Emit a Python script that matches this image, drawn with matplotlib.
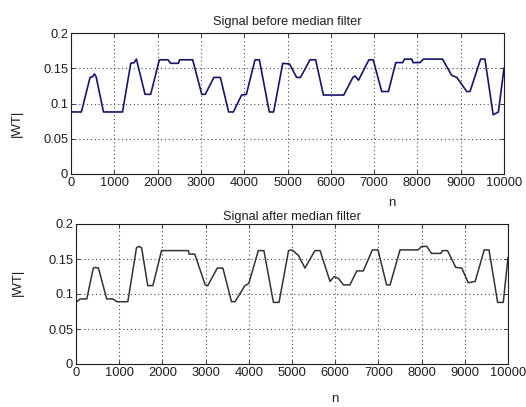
import matplotlib
matplotlib.use("Agg")
import matplotlib.pyplot as plt

plt.rcParams['font.family'] = ['Liberation Sans', 'DejaVu Sans']

# Breakpoints of the wavelet-coefficient magnitude before filtering
n_before = [0, 240, 440, 500, 540, 580, 750, 1190, 1380, 1460, 1510, 1710,
            1840, 2040, 2240, 2300, 2480, 2510, 2810, 3020, 3100, 3300, 3450,
            3640, 3750, 3940, 4050, 4250, 4350, 4580, 4680, 4890, 5050, 5210,
            5300, 5520, 5650, 5830, 6300, 6510, 6560, 6640, 6880, 6980, 7175,
            7330, 7500, 7660, 7700, 7870, 7900, 8060, 8140, 8580, 8790, 8910,
            9140, 9215, 9460, 9560, 9750, 9870, 10000]
wt_before = [0.088, 0.088, 0.137, 0.138, 0.142, 0.138, 0.088, 0.088, 0.157,
             0.158, 0.163, 0.113, 0.113, 0.162, 0.162, 0.157, 0.157, 0.162,
             0.162, 0.113, 0.113, 0.137, 0.137, 0.088, 0.088, 0.112, 0.113,
             0.162, 0.162, 0.088, 0.088, 0.157, 0.156, 0.137, 0.137, 0.162,
             0.162, 0.112, 0.112, 0.137, 0.139, 0.133, 0.162, 0.162, 0.117,
             0.117, 0.158, 0.158, 0.163, 0.163, 0.158, 0.158, 0.163, 0.163,
             0.140, 0.137, 0.117, 0.117, 0.163, 0.163, 0.084, 0.088, 0.150]

# Breakpoints of the median-filtered signal
n_after = [0, 100, 250, 400, 450, 520, 710, 850, 950, 1200, 1400, 1450, 1520,
           1660, 1780, 1980, 2600, 2620, 2750, 2990, 3050, 3270, 3400, 3600,
           3680, 3910, 4000, 4220, 4350, 4570, 4700, 4920, 5000, 5150, 5300,
           5530, 5650, 5880, 5980, 6080, 6190, 6340, 6500, 6650, 6860, 6990,
           7190, 7270, 7500, 7920, 8000, 8120, 8230, 8450, 8480, 8600, 8790,
           8930, 9080, 9240, 9450, 9560, 9760, 9890, 10000]
wt_after = [0.088, 0.093, 0.093, 0.137, 0.138, 0.137, 0.093, 0.093, 0.089,
            0.089, 0.166, 0.168, 0.166, 0.112, 0.112, 0.162, 0.162, 0.157,
            0.157, 0.113, 0.112, 0.137, 0.137, 0.089, 0.089, 0.112, 0.115,
            0.162, 0.162, 0.088, 0.088, 0.162, 0.163, 0.155, 0.137, 0.162,
            0.162, 0.118, 0.125, 0.122, 0.113, 0.113, 0.133, 0.133, 0.163,
            0.163, 0.113, 0.113, 0.163, 0.163, 0.168, 0.168, 0.158, 0.158,
            0.162, 0.162, 0.138, 0.137, 0.116, 0.118, 0.163, 0.163, 0.088,
            0.088, 0.152]

x_ticks = list(range(0, 10001, 1000))
y_ticks = [0, 0.05, 0.1, 0.15, 0.2]
y_tick_labels = ['0', '0.05', '0.1', '0.15', '0.2']

fig = plt.figure(figsize=(5.26, 4.07), dpi=100)
ax1 = fig.add_axes([71 / 526, 1 - 174 / 407, 433 / 526, 141 / 407])
ax2 = fig.add_axes([76 / 526, 1 - 364 / 407, 432 / 526, 140 / 407])

TXT = '#1e1e1e'


def style(ax, title, title_pad):
    ax.set_xlim(0, 10000)
    ax.set_ylim(0, 0.2)
    ax.set_xticks(x_ticks)
    ax.set_xticklabels([str(t) for t in x_ticks])
    ax.set_yticks(y_ticks)
    ax.set_yticklabels(y_tick_labels)
    ax.tick_params(direction='in', length=3, width=0.6, labelsize=9.3,
                   top=True, right=True, pad=2, colors=TXT)
    ax.grid(True, color='#4a4a4a', linestyle=(0, (1, 2.5)), linewidth=0.8)
    for s in ax.spines.values():
        s.set_linewidth(0.8)
        s.set_color(TXT)
    ax.set_title(title, fontsize=9.2, pad=title_pad, color=TXT)
    ax.set_ylabel('|WT|', fontsize=9.5, color=TXT)
    ax.set_xlabel('n', fontsize=9.5, color=TXT)


style(ax1, 'Signal before median filter', 6)
ax1.plot(n_before, wt_before, color='#14146e', linewidth=1.2)
ax1.yaxis.set_label_coords(-0.11, 0.36)
ax1.xaxis.set_label_coords(0.74, -0.16)

style(ax2, 'Signal after median filter', 3)
ax2.plot(n_after, wt_after, color='#333333', linewidth=1.1)
ax2.yaxis.set_label_coords(-0.12, 0.58)
ax2.xaxis.set_label_coords(0.6, -0.21)

fig.savefig('out.png', dpi=100, facecolor='white')
